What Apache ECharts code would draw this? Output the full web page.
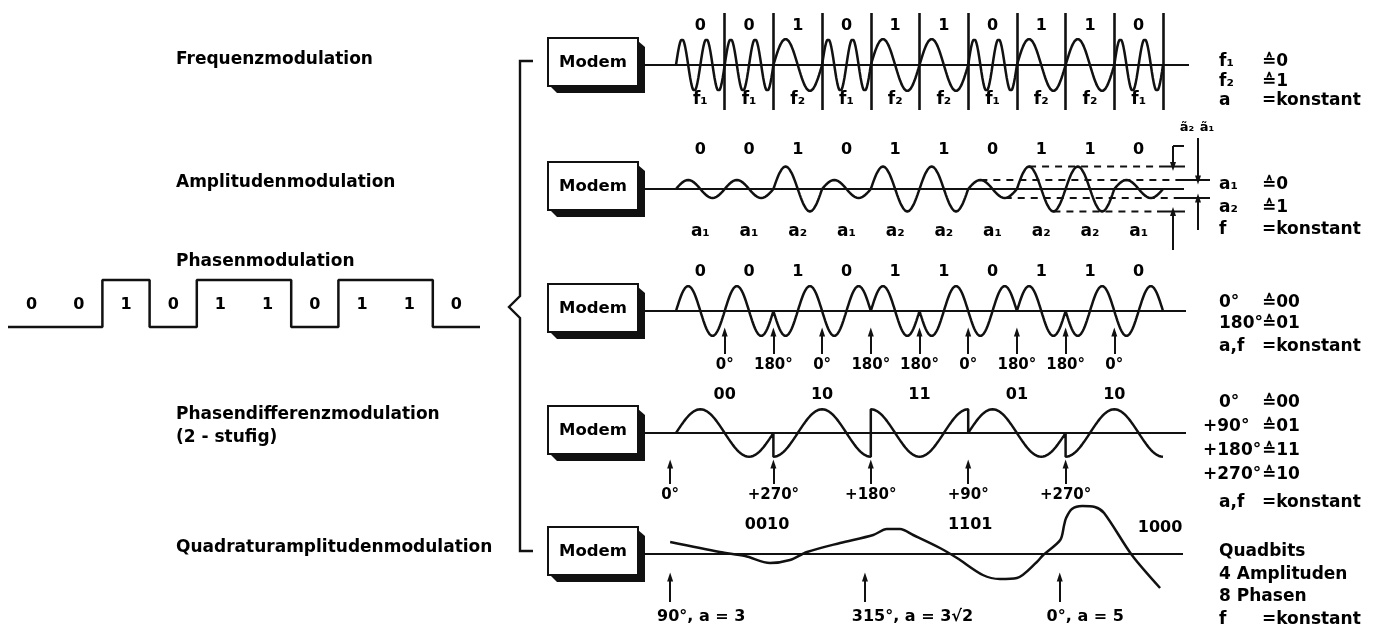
<!DOCTYPE html>
<html><head><meta charset="utf-8">
<script src="https://cdn.jsdelivr.net/npm/echarts@6/dist/echarts.min.js"></script>
<style>html,body{margin:0;padding:0;background:#fff}#c{width:1390px;height:632px}</style>
</head><body><div id="c"></div>
<script>
// ---------------- data ----------------
const bits = [0,0,1,0,1,1,0,1,1,0];
const fmLabels = ['f₁','f₁','f₂','f₁','f₂','f₂','f₁','f₂','f₂','f₁'];
const fmCycles = [2,2,1,2,1,1,2,1,1,2];            // carrier cycles per bit (f1 = 2, f2 = 1)
const amLabels = ['a₁','a₁','a₂','a₁','a₂','a₂','a₁','a₂','a₂','a₁'];
const amAmps   = [0.36,0.36,0.9,0.36,0.9,0.9,0.36,0.9,0.9,0.36];
const pmShiftLabels = ['0°','180°','0°','180°','180°','0°','180°','180°','0°'];
const pmShifts      = [0,180,0,180,180,0,180,180,0];
const pdmDibits      = ['00','10','11','01','10'];
const pdmShiftLabels = ['0°','+270°','+180°','+90°','+270°'];
const pdmPhases      = [0,270,90,0,270];           // phase of each drawn dibit segment
const qamQuadbits = ['0010','1101','1000'];
const qamLabels   = ['90°, a = 3','315°, a = 3√2','0°, a = 5'];
const qamCurve = [[-0.12,0.48],[0.9,0.08],[1.42,-0.08],[1.93,-0.36],[2.34,-0.24],[2.69,0.08],
  [3.37,0.44],[4.05,0.76],[4.33,1.0],[4.6,1.0],[4.87,0.76],[5.42,0.24],[5.77,-0.16],[6.3,-0.84],
  [6.65,-1.0],[7.0,-0.96],[7.41,-0.32],[7.54,-0.04],[7.89,0.56],[7.97,1.16],[8.01,1.44],[8.13,1.8],
  [8.34,1.92],[8.6,1.88],[8.79,1.64],[9.36,-0.04],[9.94,-1.36]];
const titles = ['Frequenzmodulation','Amplitudenmodulation','Phasenmodulation','Phasendifferenzmodulation','(2 - stufig)','Quadraturamplitudenmodulation'];

// ---------------- layout ----------------
const FONT = 'DejaVu Sans', INK = '#111';
const X0 = 676, PXB = 48.7, PXU = 25;
const GL = 645, GR = 1215;
const xMin = (GL - X0) / PXB, xMax = (GR - X0) / PXB;
const rows = [
  {axisY:65,  top:13,  bottom:110, end:1189},
  {axisY:189, top:118, bottom:256, end:1184},
  {axisY:311, top:256, bottom:382, end:1186},
  {axisY:433, top:384, bottom:506, end:1186},
  {axisY:554, top:506, bottom:630, end:1183}
];
const bx = px => (px - X0) / PXB;

const grid = [], xAxis = [], yAxis = [], series = [];
rows.forEach((r, i) => {
  grid.push({left: GL, top: r.top, width: GR - GL, height: r.bottom - r.top});
  xAxis.push({type:'value', gridIndex:i, min:xMin, max:xMax, show:false});
  yAxis.push({type:'value', gridIndex:i, min:-(r.bottom - r.axisY)/PXU, max:(r.axisY - r.top)/PXU, show:false});
});
// square wave grid (index 5)
const SQ_L = 8, SQ_W = 472, SQ_LOW = 327, SQ_HIGH = 280, SQ_TOP = 268, SQ_BOT = 340;
const sqU = SQ_LOW - SQ_HIGH;
grid.push({left:SQ_L, top:SQ_TOP, width:SQ_W, height:SQ_BOT - SQ_TOP});
xAxis.push({type:'value', gridIndex:5, min:0, max:10, show:false});
yAxis.push({type:'value', gridIndex:5, min:-(SQ_BOT - SQ_LOW)/sqU, max:(SQ_LOW - SQ_TOP)/sqU, show:false});

const lineBase = (i, data, extra) => Object.assign({
  type:'line', xAxisIndex:i, yAxisIndex:i, data, showSymbol:false, symbol:'none', silent:true, clip:false,
  lineStyle:{color:INK, width:2.5}, z:3
}, extra || {});

const labelSeries = (i, items, size, extra) => Object.assign({
  type:'scatter', xAxisIndex:i, yAxisIndex:i, symbolSize:1, silent:true, clip:false,
  itemStyle:{color:'transparent'}, z:5,
  label:Object.assign({show:true, position:'inside', formatter:'{b}', color:'#000', fontSize:size, fontWeight:'bold',
    fontFamily:FONT, textBorderWidth:0, opacity:1}, (extra && extra.label) || {}),
  data: items
}, (extra && extra.rest) || {});

const arrowML = (list, size) => ({
  silent:true, animation:false, label:{show:false}, lineStyle:{color:INK, width:2, type:'solid'},
  data: list.map(a => [{coord:[a[0], a[1]], symbol:'none', symbolSize:1},
                       {coord:[a[0], a[2]], symbol:'triangle', symbolSize:[6, size || 9]}])
});

// ---- baselines
rows.forEach((r, i) => {
  series.push(lineBase(i, [[xMin, 0], [bx(r.end), 0]], {lineStyle:{color:INK, width:2.2}}));
});

// ---- square wave
const sq = bits.map((b, i) => [i, b]); sq.push([10, bits[9]]);
series.push(lineBase(5, sq, {step:'end'}));
series.push(labelSeries(5, bits.map((b, i) => ({name:String(b), value:[i + 0.5, (SQ_LOW - 305)/sqU]})), 16));

// ---- FM
(function(){
  const pts = [], N = 48;
  for (let i = 0; i < 10; i++) for (let s = (i ? 1 : 0); s <= N; s++) {
    const t = s / N; pts.push([i + t, 1.04 * Math.sin(2 * Math.PI * fmCycles[i] * t)]);
  }
  series.push(lineBase(0, pts, {markLine:{silent:true, symbol:'none', animation:false, label:{show:false},
    lineStyle:{color:INK, width:2.6, type:'solid'}, data: bits.map((b, i) => ({xAxis: i + 1}))}}));
  series.push(labelSeries(0, bits.map((b, i) => ({name:String(b), value:[i + 0.5, (65 - 26)/PXU]})), 16));
  series.push(labelSeries(0, fmLabels.map((t, i) => ({name:t, value:[i + 0.5, (65 - 100)/PXU]})), 17));
})();

// ---- AM
(function(){
  const pts = [], N = 48;
  for (let i = 0; i < 10; i++) for (let s = (i ? 1 : 0); s <= N; s++) {
    const t = s / N; pts.push([i + t, amAmps[i] * Math.sin(2 * Math.PI * t)]);
  }
  series.push(lineBase(1, pts));
  series.push(labelSeries(1, bits.map((b, i) => ({name:String(b), value:[i + 0.5, (189 - 150)/PXU]})), 16));
  series.push(labelSeries(1, amLabels.map((t, i) => ({name:t, value:[i + 0.5, (189 - 232)/PXU]})), 17));
  const hi = Math.max(...amAmps), lo = Math.min(...amAmps);
  const dashed = {color:INK, width:2, type:[7, 6]};
  series.push(lineBase(1, [[7.25, hi], [bx(1160), hi]], {lineStyle:dashed}));
  series.push(lineBase(1, [[6.25, lo], [bx(1180), lo]], {lineStyle:dashed}));
  series.push(lineBase(1, [[6.75, -lo], [bx(1180), -lo]], {lineStyle:dashed}));
  series.push(lineBase(1, [[7.75, -hi], [bx(1157), -hi]], {lineStyle:dashed}));
  const solid = {color:INK, width:2};
  series.push(lineBase(1, [[bx(1160), hi], [bx(1185), hi]], {lineStyle:solid}));
  series.push(lineBase(1, [[bx(1180), lo], [bx(1210), lo]], {lineStyle:solid}));
  series.push(lineBase(1, [[bx(1180), -lo], [bx(1210), -lo]], {lineStyle:solid}));
  series.push(lineBase(1, [[bx(1157), -hi], [bx(1185), -hi]], {lineStyle:solid}));
  series.push(lineBase(1, [[bx(1173), (189-146)/PXU], [bx(1184), (189-146)/PXU]], {lineStyle:solid}));
  series.push(lineBase(1, [[xMin, 0]], {markLine: arrowML([
    [bx(1173), (189-146)/PXU, hi], [bx(1173), (189-250)/PXU, -hi],
    [bx(1198), (189-138)/PXU, lo], [bx(1198), (189-230)/PXU, -lo]
  ], 9)}));
})();

// ---- PM
(function(){
  const pts = [], N = 48; let ph = 0;
  for (let i = 0; i < 10; i++) {
    if (i > 0) ph += pmShifts[i - 1];
    for (let s = (i ? 1 : 0); s <= N; s++) {
      const t = s / N; pts.push([i + t, 1.0 * Math.sin(2 * Math.PI * t + ph * Math.PI / 180)]);
    }
  }
  series.push(lineBase(2, pts));
  series.push(labelSeries(2, bits.map((b, i) => ({name:String(b), value:[i + 0.5, (311 - 272)/PXU]})), 16));
  series.push(labelSeries(2, pmShiftLabels.map((t, i) => ({name:t, value:[i + 1, (311 - 365)/PXU]})), 15));
  series.push(lineBase(2, [[xMin, 0]], {markLine: arrowML(pmShifts.map((s, i) => [i + 1, (311-354)/PXU, (311-332)/PXU]), 9)}));
})();

// ---- PDM
(function(){
  const pts = [], N = 96;
  for (let k = 0; k < 5; k++) for (let s = 0; s <= N; s++) {
    const t = s / N; pts.push([2 * k + 2 * t, 0.95 * Math.sin(2 * Math.PI * t + pdmPhases[k] * Math.PI / 180)]);
  }
  series.push(lineBase(3, pts));
  series.push(labelSeries(3, pdmDibits.map((t, k) => ({name:t, value:[2 * k + 1, (433 - 395)/PXU]})), 16));
  const ax = pdmShiftLabels.map((t, k) => k === 0 ? -0.12 : 2 * k);
  series.push(labelSeries(3, pdmShiftLabels.map((t, k) => ({name:t, value:[ax[k], (433 - 495)/PXU]})), 15));
  series.push(lineBase(3, [[xMin, 0]], {markLine: arrowML(ax.map(x => [x, (433-484)/PXU, (433-464)/PXU]), 9)}));
})();

// ---- QAM
(function(){
  series.push(lineBase(4, qamCurve, {smooth:0.3}));
  const qx = [1.87, 6.04, 9.94], qy = [1.16, 1.16, 1.04];
  series.push(labelSeries(4, qamQuadbits.map((t, k) => ({name:t, value:[qx[k], qy[k]]})), 16));
  const ax = qamLabels.map((t, k) => 4 * k - 0.12);
  series.push(labelSeries(4, qamLabels.map((t, k) => ({name:t, value:[ax[k] - 0.27, (554 - 617)/PXU]})), 16, {label:{align:'left'}}));
  series.push(lineBase(4, [[xMin, 0]], {markLine: arrowML(ax.map(x => [x, (554-602)/PXU, (554-577)/PXU]), 9)}));
})();

// ---------------- graphics (text, boxes, bracket) ----------------
const graphic = [];
const txt = (x, y, t, size, align, rot) => graphic.push({type:'text', x, y, rotation: rot || 0, silent:true, z:10,
  style:{text:t, font:'bold ' + (size || 18) + 'px "' + FONT + '"', fill:'#000', align:align || 'left', textAlign:align || 'left', verticalAlign:'middle', textVerticalAlign:'middle'}});
// titles
const titleY = [60, 183, 262, 415, 438, 548];
titles.forEach((t, i) => txt(176, titleY[i], t, 17));
// modem boxes
rows.forEach(r => {
  const x = 548, y = r.axisY - 27, w = 90, h = 48, d = 7;
  graphic.push({type:'polygon', silent:true, z:8, shape:{points:[[x + w, y + 3], [x + w + d, y + d + 2], [x + w + d, y + h + d], [x + d + 2, y + h + d], [x + 2, y + h]]}, style:{fill:INK}});
  graphic.push({type:'rect', silent:true, z:9, shape:{x, y, width:w, height:h}, style:{fill:'#fff', stroke:INK, lineWidth:2}});
  txt(x + w/2, r.axisY - 2, 'Modem', 16.5, 'center');
});
// bracket
graphic.push({type:'polyline', silent:true, z:8, shape:{points:[[533,61],[520,61],[520,296],[509,307],[520,318],[520,551],[533,551]]}, style:{stroke:INK, lineWidth:2.4, fill:null}});
// right legends
const C1 = 1219, C2 = 1262;
[[62,'f₁','≙0'],[82,'f₂','≙1'],[101,'a','=konstant'],
 [185,'a₁','≙0'],[208,'a₂','≙1'],[230,'f','=konstant'],
 [303,'0°','≙00'],[324,'180°','≙01'],[347,'a,f','=konstant'],
 [403,'0°','≙00'],[427,'+90°','≙01'],[451,'+180°','≙11'],[475,'+270°','≙10'],[503,'a,f','=konstant'],
 [620,'f','=konstant']].forEach(e => {
  const c1 = /^\+/.test(e[1]) ? 1203 : C1;
  txt(c1, e[0], e[1], 17); txt(C2, e[0], e[2], 17);
});
txt(C1, 552, 'Quadbits', 17); txt(C1, 575, '4 Amplituden', 17); txt(C1, 597, '8 Phasen', 17);
// small amplitude marks
txt(1187, 128, 'ã₂', 13, 'center'); txt(1207, 128, 'ã₁', 13, 'center');

const chart = echarts.init(document.getElementById('c'));
chart.setOption({animation:false, backgroundColor:'#fff', grid, xAxis, yAxis, series, graphic});
</script></body></html>
